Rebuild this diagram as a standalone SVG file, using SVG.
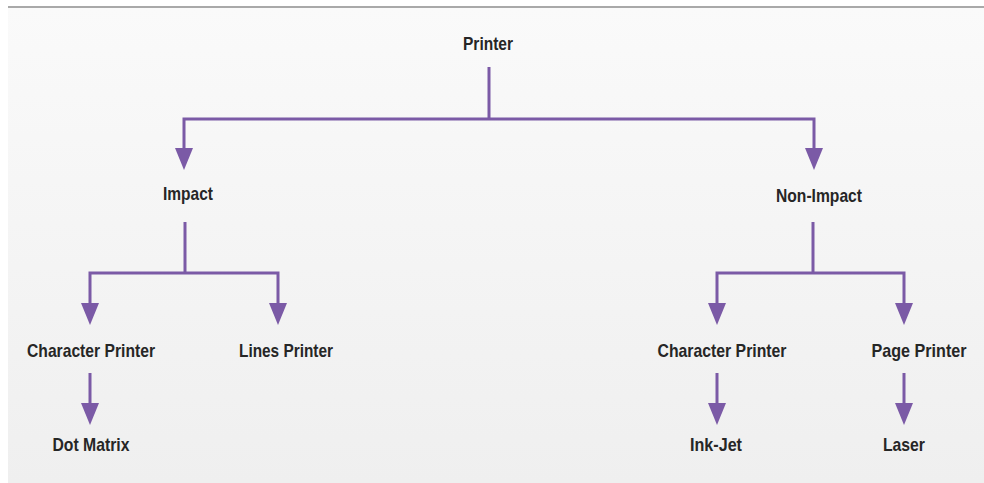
<svg xmlns="http://www.w3.org/2000/svg" width="984" height="483" viewBox="0 0 984 483">
  <defs>
    <linearGradient id="bg" x1="0" y1="0" x2="0" y2="1">
      <stop offset="0" stop-color="#fafafa"/>
      <stop offset="1" stop-color="#efefef"/>
    </linearGradient>
    <marker id="arrow" viewBox="0 0 22 18" markerUnits="userSpaceOnUse" markerWidth="22" markerHeight="18" refX="10" refY="9" orient="auto">
      <path d="M0,0 L22,9 L0,18 Z" fill="#7b5aa6"/>
    </marker>
  </defs>
  <style>
    .lbl { font-family: "Liberation Sans", Arial, sans-serif; font-weight: bold; font-size: 19px; fill: #262626; text-anchor: middle; }
    .conn { fill: none; stroke: #7b5aa6; stroke-width: 3; }
    .arr { marker-end: url(#arrow); }
  </style>
  <rect x="0" y="0" width="984" height="483" fill="#ffffff"/>
  <rect x="8" y="7" width="976" height="476" fill="url(#bg)"/>
  <line x1="8" y1="7" x2="984" y2="7" stroke="#a9a9a9" stroke-width="2"/>

  <g id="connectors">
    <path class="conn" d="M489,67 V119"/>
    <path class="conn arr" d="M489,119 H184 V158"/>
    <path class="conn arr" d="M489,119 H814 V158"/>
    <path class="conn" d="M185,222 V273"/>
    <path class="conn arr" d="M185,273 H90 V313"/>
    <path class="conn arr" d="M185,273 H278 V313"/>
    <path class="conn arr" d="M90,373 V413"/>
    <path class="conn" d="M813,222 V273"/>
    <path class="conn arr" d="M813,273 H717 V313"/>
    <path class="conn arr" d="M813,273 H904 V313"/>
    <path class="conn arr" d="M717,373 V413"/>
    <path class="conn arr" d="M904,373 V413"/>
  </g>

  <g id="printer"><text class="lbl" x="488" y="50" textLength="50" lengthAdjust="spacingAndGlyphs">Printer</text></g>
  <g id="impact"><text class="lbl" x="188" y="200" textLength="50" lengthAdjust="spacingAndGlyphs">Impact</text></g>
  <g id="non-impact"><text class="lbl" x="819" y="202" textLength="86" lengthAdjust="spacingAndGlyphs">Non-Impact</text></g>
  <g id="character-printer-impact"><text class="lbl" x="91" y="357" textLength="128" lengthAdjust="spacingAndGlyphs">Character Printer</text></g>
  <g id="lines-printer"><text class="lbl" x="286" y="357" textLength="94" lengthAdjust="spacingAndGlyphs">Lines Printer</text></g>
  <g id="dot-matrix"><text class="lbl" x="91" y="451" textLength="77" lengthAdjust="spacingAndGlyphs">Dot Matrix</text></g>
  <g id="character-printer-nonimpact"><text class="lbl" x="722" y="357" textLength="129" lengthAdjust="spacingAndGlyphs">Character Printer</text></g>
  <g id="page-printer"><text class="lbl" x="919" y="357" textLength="95" lengthAdjust="spacingAndGlyphs">Page Printer</text></g>
  <g id="ink-jet"><text class="lbl" x="716" y="451" textLength="52" lengthAdjust="spacingAndGlyphs">Ink-Jet</text></g>
  <g id="laser"><text class="lbl" x="904" y="451" textLength="42" lengthAdjust="spacingAndGlyphs">Laser</text></g>
</svg>
